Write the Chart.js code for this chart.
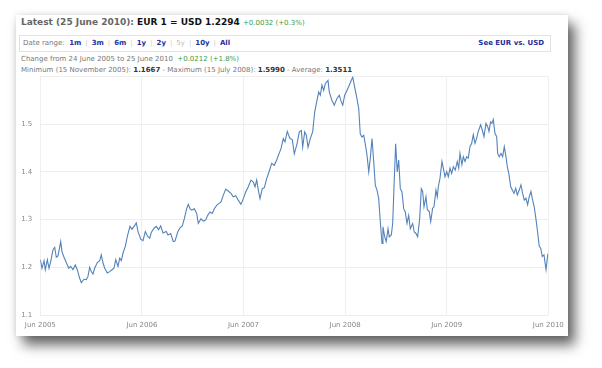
<!DOCTYPE html>
<html>
<head>
<meta charset="utf-8">
<script src="https://cdn.jsdelivr.net/npm/chart.js@4/dist/chart.umd.min.js"></script>
<style>
  body { margin: 0; width: 602px; height: 368px; background: #fff; position: relative; overflow: hidden; font-family: "DejaVu Sans", Verdana, sans-serif; }
  .card { position: absolute; left: 16px; top: 15px; width: 552px; height: 321px; background: #fff;
          box-shadow: 7px 9px 12px rgba(0,0,0,0.6), 0 0 6px rgba(0,0,0,0.12); }
  .t { position: absolute; white-space: nowrap; }
  .head { left: 21px; top: 17px; font-size: 9px; color: #666; font-weight: bold; }
  .head b { color: #111; }
  .up { color: #3a9a4a; font-weight: normal; font-size: 7px; }
  .range { position: absolute; left: 19px; top: 35px; width: 530px; height: 15px; border: 1px solid #e2e2e2; }
  .range .t { top: 3px; font-size: 7px; color: #777; }
  .range .lnk, .lnk { color: #1f2f9a; font-weight: bold; }
  .sep { color: #ccc; padding: 0 4px; }
  .off { color: #bbb; }
  .info { left: 21px; font-size: 7px; color: #777; }
  .info b { color: #333; }
  #wrap { position: absolute; left: 0; top: 0; width: 602px; height: 368px; }
</style>
</head>
<body>
<div class="card"></div>
<div class="t head">Latest (25 June 2010): <b>EUR 1 = USD 1.2294</b> <span class="up">+0.0032 (+0.3%)</span></div>
<div class="range">
  <div class="t" style="left:3px">Date range: &nbsp;<span class="lnk">1m</span><span class="sep">|</span><span class="lnk">3m</span><span class="sep">|</span><span class="lnk">6m</span><span class="sep">|</span><span class="lnk">1y</span><span class="sep">|</span><span class="lnk">2y</span><span class="sep">|</span><span class="off">5y</span><span class="sep">|</span><span class="lnk">10y</span><span class="sep">|</span><span class="lnk">All</span></div>
  <div class="t lnk" style="right:6px">See EUR vs. USD</div>
</div>
<div class="t info" style="top:55px">Change from 24 June 2005 to 25 June 2010 &nbsp;<span class="up">+0.0212 (+1.8%)</span></div>
<div class="t info" style="top:66px">Minimum (15 November 2005): <b>1.1667</b> - Maximum (15 July 2008): <b>1.5990</b> - Average: <b>1.3511</b></div>
<div id="wrap"><canvas id="myChart"></canvas></div>
<script>
// months since June 2005
const months = [
  0, 0.20, 0.44, 0.59, 0.83, 1.03, 1.23, 1.50, 1.70, 1.89, 2.09, 2.41, 2.56, 2.80, 3.07, 3.35, 3.59, 3.86, 4.13, 4.37,
  4.65, 4.84, 5.16, 5.43, 5.63, 5.83, 6.02, 6.22, 6.42, 6.73, 7.02, 7.20, 7.41, 7.61, 7.91, 8.20, 8.47, 8.70, 8.91, 9.18,
  9.38, 9.57, 9.77, 10.04, 10.28, 10.59, 10.83, 11.07, 11.34, 11.54, 11.86, 12.13, 12.40, 12.64, 12.92, 13.11, 13.43, 13.70, 13.98, 14.22,
  14.49, 14.88, 15.08, 15.40, 15.71, 15.91, 16.23, 16.50, 16.77, 17.01, 17.29, 17.48, 17.68, 17.88, 18.19, 18.47, 18.66, 18.98, 19.25, 19.53,
  19.77, 20.04, 20.31, 20.55, 20.83, 21.11, 21.34, 21.61, 21.90, 22.20, 22.52, 22.79, 23.08, 23.38, 23.70, 23.98, 24.26, 24.57, 24.88, 25.16,
  25.36, 25.56, 25.75, 25.95, 26.22, 26.46, 26.74, 27.01, 27.33, 27.64, 27.92, 28.19, 28.43, 28.70, 28.90, 29.17, 29.49, 29.76, 30.00, 30.32,
  30.59, 30.83, 30.99, 31.23, 31.42, 31.62, 31.89, 32.17, 32.41, 32.68, 32.88, 33.07, 33.27, 33.47, 33.66, 33.98, 34.13, 34.45, 34.72, 35.04,
  35.31, 35.55, 35.72, 35.95, 36.22, 36.49, 36.73, 36.90, 37.13, 37.40, 37.61, 37.79, 37.99, 38.20, 38.38, 38.59, 38.79, 38.97, 39.18, 39.38,
  39.57, 39.77, 39.97, 40.16, 40.36, 40.47, 40.68, 40.86, 41.07, 41.22, 41.46, 41.62, 41.77, 41.97, 42.16, 42.33, 42.52, 42.72, 42.92, 43.11,
  43.31, 43.51, 43.70, 43.98, 44.17, 44.37, 44.57, 44.81, 45.00, 45.16, 45.32, 45.55, 45.71, 45.94, 46.11, 46.34, 46.50, 46.73, 46.89, 47.01,
  47.21, 47.44, 47.60, 47.80, 48.00, 48.19, 48.39, 48.59, 48.78, 49.01, 49.25, 49.42, 49.57, 49.80, 49.96, 50.16, 50.36, 50.55, 50.75, 50.95,
  51.14, 51.34, 51.54, 51.73, 52.01, 52.20, 52.40, 52.64, 52.84, 52.99, 53.19, 53.35, 53.50, 53.70, 53.90, 54.02, 54.21, 54.41, 54.61, 54.80,
  55.00, 55.16, 55.36, 55.56, 55.75, 55.95, 56.15, 56.34, 56.57, 56.77, 56.97, 57.16, 57.36, 57.56, 57.75, 57.95, 58.15, 58.34, 58.55, 58.75,
  58.93, 59.10, 59.29, 59.49, 59.73, 59.93, 60.00
];
// EUR -> USD rate
const rates = [
  1.216, 1.198, 1.214, 1.195, 1.216, 1.198, 1.212, 1.237, 1.242, 1.221, 1.224, 1.254, 1.233, 1.221, 1.210, 1.198, 1.202, 1.195, 1.205, 1.195,
  1.177, 1.168, 1.175, 1.174, 1.181, 1.200, 1.191, 1.186, 1.198, 1.210, 1.214, 1.226, 1.209, 1.198, 1.188, 1.191, 1.195, 1.198, 1.216, 1.202,
  1.219, 1.214, 1.230, 1.244, 1.265, 1.286, 1.280, 1.286, 1.293, 1.275, 1.259, 1.256, 1.275, 1.266, 1.261, 1.273, 1.282, 1.286, 1.279, 1.287,
  1.272, 1.275, 1.268, 1.271, 1.254, 1.255, 1.274, 1.283, 1.287, 1.302, 1.323, 1.332, 1.323, 1.320, 1.323, 1.313, 1.292, 1.302, 1.297, 1.299,
  1.309, 1.316, 1.313, 1.323, 1.330, 1.334, 1.337, 1.351, 1.364, 1.360, 1.355, 1.348, 1.350, 1.341, 1.332, 1.344, 1.358, 1.369, 1.383, 1.379,
  1.369, 1.383, 1.362, 1.344, 1.365, 1.367, 1.386, 1.400, 1.418, 1.414, 1.425, 1.438, 1.449, 1.470, 1.463, 1.485, 1.470, 1.468, 1.438, 1.459,
  1.484, 1.487, 1.452, 1.484, 1.477, 1.452, 1.470, 1.484, 1.526, 1.550, 1.568, 1.561, 1.582, 1.571, 1.585, 1.592, 1.568, 1.550, 1.540, 1.554,
  1.561, 1.547, 1.540, 1.561, 1.571, 1.582, 1.592, 1.599, 1.578, 1.554, 1.533, 1.480, 1.473, 1.477, 1.459, 1.435, 1.400, 1.428, 1.470, 1.421,
  1.372, 1.362, 1.344, 1.295, 1.250, 1.285, 1.264, 1.254, 1.281, 1.264, 1.268, 1.292, 1.365, 1.459, 1.400, 1.425, 1.365, 1.358, 1.323, 1.316,
  1.292, 1.309, 1.281, 1.292, 1.274, 1.271, 1.264, 1.302, 1.365, 1.359, 1.327, 1.348, 1.321, 1.317, 1.296, 1.324, 1.327, 1.362, 1.348, 1.369,
  1.387, 1.422, 1.408, 1.390, 1.401, 1.390, 1.408, 1.397, 1.411, 1.404, 1.422, 1.408, 1.439, 1.415, 1.432, 1.422, 1.432, 1.429, 1.453, 1.460,
  1.478, 1.460, 1.471, 1.485, 1.499, 1.488, 1.474, 1.502, 1.495, 1.485, 1.505, 1.502, 1.510, 1.481, 1.474, 1.439, 1.432, 1.439, 1.432, 1.453,
  1.432, 1.411, 1.394, 1.369, 1.362, 1.355, 1.366, 1.352, 1.362, 1.373, 1.355, 1.341, 1.345, 1.331, 1.348, 1.359, 1.341, 1.327, 1.300, 1.272,
  1.244, 1.240, 1.223, 1.226, 1.195, 1.226, 1.229
];
const xLabels = ['Jun 2005', 'Jun 2006', 'Jun 2007', 'Jun 2008', 'Jun 2009', 'Jun 2010'];
const yLabels = ['1.1', '1.2', '1.3', '1.4', '1.5'];

const points = months.map((m, i) => ({ x: m, y: rates[i] }));

const config = {
    type: 'line',
    data: {
        datasets: [{
            data: points,
            borderColor: '#5383ba',
            borderWidth: 1.1,
            pointRadius: 0,
            tension: 0,
            fill: false
        }]
    },
    options: {
        responsive: true,
        maintainAspectRatio: false,
        animation: false,
        layout: { padding: { left: 10, right: 53.7, top: 76.6, bottom: 33 } },
        plugins: {
            legend: { display: false },
            tooltip: { enabled: false }
        },
        scales: {
            x: {
                type: 'linear',
                min: 0, max: 60,
                ticks: {
                    stepSize: 12,
                    padding: 6,
                    color: '#888',
                    font: { family: 'DejaVu Sans', size: 7 },
                    maxRotation: 0,
                    callback: (v) => xLabels[Math.round(v / 12)]
                },
                grid: { color: '#efefef', drawTicks: false },
                border: { display: false },
                afterFit: (axis) => { axis.height = 20; }
            },
            y: {
                min: 1.1, max: 1.6,
                ticks: {
                    stepSize: 0.1,
                    padding: 8,
                    color: '#888',
                    font: { family: 'DejaVu Sans', size: 7 },
                    callback: (v) => {
                        const s = v.toFixed(1);
                        return yLabels.includes(s) ? s : '';
                    }
                },
                grid: { color: '#efefef', drawTicks: false },
                border: { display: false },
                afterFit: (axis) => { axis.width = 30.3; }
            }
        }
    }
};

const myChart = new Chart(document.getElementById('myChart'), config);
</script>
</body>
</html>
